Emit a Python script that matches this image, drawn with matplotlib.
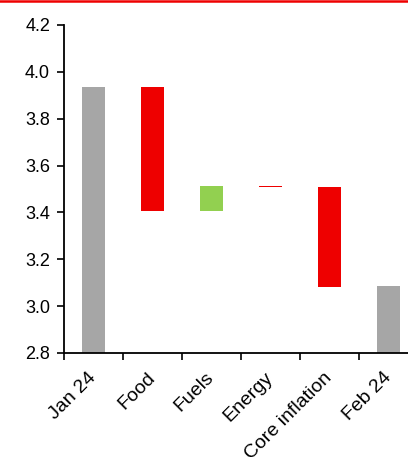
import matplotlib
matplotlib.use("Agg")
import matplotlib.pyplot as plt
from matplotlib.lines import Line2D
import numpy as np

plt.rcParams['font.family'] = ['Liberation Sans', 'DejaVu Sans']

#--------data--------
labels = ["Jan 24", "Food", "Fuels", "Energy", "Core inflation", "Feb 24"]
start_val = 3.937
changes = [-0.53, 0.105, -0.004, -0.425]
end_val = 3.085

gray = "#A6A6A6"
red = "#EE0000"
green = "#92D050"

#--------build waterfall--------
bottoms = [2.8]
heights = [start_val - 2.8]
colors = [gray]
level = start_val
for c in changes:
    new = level + c
    bottoms.append(min(level, new))
    heights.append(abs(c))
    colors.append(green if c > 0 else red)
    level = new
bottoms.append(2.8)
heights.append(end_val - 2.8)
colors.append(gray)

fig = plt.figure(figsize=(4.08, 4.57), dpi=100)
ax = fig.add_axes([64/408, 104/457, 354/408, 328/457])

x = np.arange(len(labels))
ax.bar(x, heights, bottom=bottoms, width=0.39, color=colors)

ax.set_ylim(2.8, 4.2)
ax.set_yticks(np.arange(2.8, 4.21, 0.2))
ax.set_yticklabels(["%.1f" % v for v in np.arange(2.8, 4.21, 0.2)])
ax.set_xlim(-0.5, 5.5)

# tick marks at category borders, labels at centres
ax.set_xticks(np.arange(-0.5, 5.0, 1.0))
ax.set_xticklabels([])
ax.set_xticks(x, minor=True)
ax.set_xticklabels(labels, minor=True, rotation=45, ha="right", va="center",
                   rotation_mode="anchor")
ax.tick_params(axis="x", which="minor", length=0, pad=16, labelsize=14)
ax.tick_params(axis="x", which="major", length=5, width=1.2, direction="out")
ax.tick_params(axis="y", length=5, width=1.2, direction="out", labelsize=13, pad=5)

for s in ["top", "right"]:
    ax.spines[s].set_visible(False)
for s in ["left", "bottom"]:
    ax.spines[s].set_linewidth(1.3)

# red rule across top of figure
fig.add_artist(Line2D([0, 1], [1 - 1.2/457, 1 - 1.2/457], color=red, lw=1.8,
                      transform=fig.transFigure))

plt.savefig("out.png", dpi=100)
